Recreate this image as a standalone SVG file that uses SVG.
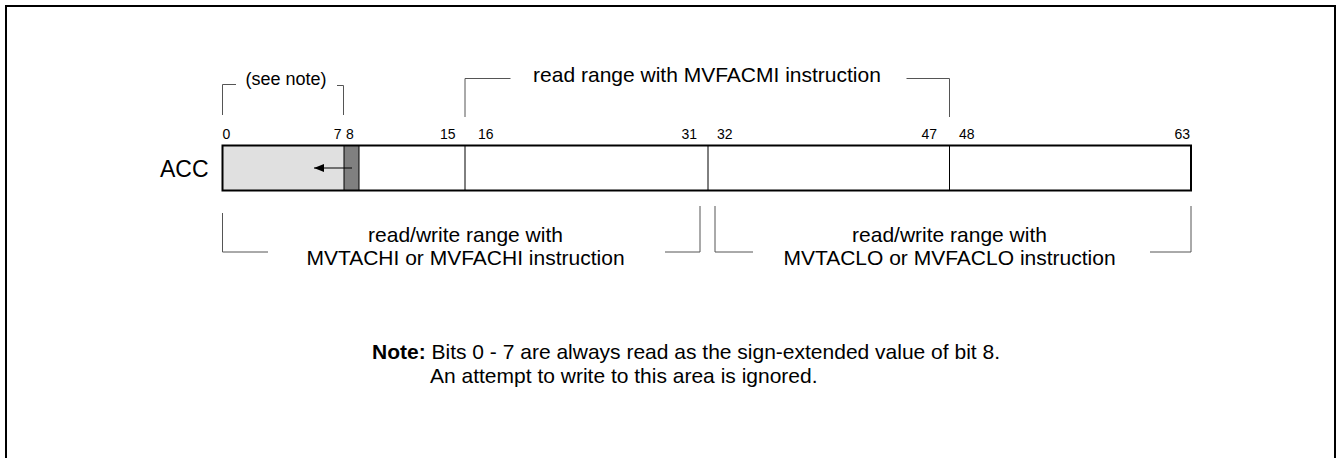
<svg xmlns="http://www.w3.org/2000/svg" width="1339" height="458" viewBox="0 0 1339 458">
<defs>
<style>
text{font-family:"Liberation Sans",Arial,Helvetica,sans-serif;fill:#000}
.lbl{font-size:21px}
.bit{font-size:14px}
.brk{fill:none;stroke:#555;stroke-width:1}
.div{stroke:#000;stroke-width:1}
</style>
<marker id="ah" markerWidth="10" markerHeight="8" refX="10" refY="4" orient="auto" markerUnits="userSpaceOnUse">
<path d="M0,0 L10,4 L0,8 Z" fill="#000"/>
</marker>
</defs>
<rect x="6" y="6" width="1329" height="480" fill="#fff" stroke="#000" stroke-width="2"/>

<g id="register">
<rect x="222.5" y="145.5" width="121.5" height="45" fill="#e0e0e0"/>
<rect x="344" y="145.5" width="15" height="45" fill="#808080"/>
<line class="div" x1="344" y1="145.5" x2="344" y2="190.5"/>
<line class="div" x1="359" y1="145.5" x2="359" y2="190.5"/>
<line class="div" x1="465" y1="145.5" x2="465" y2="190.5"/>
<line class="div" x1="708" y1="145.5" x2="708" y2="190.5"/>
<line class="div" x1="949.5" y1="145.5" x2="949.5" y2="190.5"/>
<rect x="222.5" y="145.5" width="968.5" height="45" fill="none" stroke="#000" stroke-width="2"/>
<text x="160" y="177" style="font-size:23px">ACC</text>
</g>

<g id="bits">
<text class="bit" x="222.5" y="139">0</text>
<text class="bit" x="341.5" y="139" text-anchor="end">7</text>
<text class="bit" x="346" y="139">8</text>
<text class="bit" x="455.5" y="139" text-anchor="end">15</text>
<text class="bit" x="478" y="139">16</text>
<text class="bit" x="697" y="139" text-anchor="end">31</text>
<text class="bit" x="717" y="139">32</text>
<text class="bit" x="937" y="139" text-anchor="end">47</text>
<text class="bit" x="959" y="139">48</text>
<text class="bit" x="1190" y="139" text-anchor="end">63</text>
</g>

<g id="connectors">
<line x1="352" y1="168" x2="314" y2="168" stroke="#000" stroke-width="1" marker-end="url(#ah)"/>
<polyline class="brk" points="222.5,115 222.5,84.5 236,84.5"/>
<polyline class="brk" points="337,85.5 343.5,85.5 343.5,115"/>
<polyline class="brk" points="465,117 465,78.5 510.5,78.5"/>
<polyline class="brk" points="906.5,78.5 949.5,78.5 949.5,117"/>
<polyline class="brk" points="222.5,213 222.5,252 268,252"/>
<polyline class="brk" points="665,252 700,252 700,206"/>
<polyline class="brk" points="715,206 715,252 753,252"/>
<polyline class="brk" points="1150,252 1191,252 1191,206"/>
</g>

<g id="label-see-note">
<text x="245.5" y="85" style="font-size:18px">(see note)</text>
</g>
<g id="label-mvfacmi">
<text class="lbl" x="707" y="82" text-anchor="middle">read range with MVFACMI instruction</text>
</g>
<g id="label-hi">
<text class="lbl" x="465.5" y="242" text-anchor="middle">read/write range with</text>
<text class="lbl" x="465.5" y="265" text-anchor="middle">MVTACHI or MVFACHI instruction</text>
</g>
<g id="label-lo">
<text class="lbl" x="949.5" y="242" text-anchor="middle">read/write range with</text>
<text class="lbl" x="949.5" y="265" text-anchor="middle">MVTACLO or MVFACLO instruction</text>
</g>
<g id="note">
<text class="lbl" x="372" y="359"><tspan font-weight="bold">Note:</tspan> Bits 0 - 7 are always read as the sign-extended value of bit 8.</text>
<text class="lbl" x="430" y="383">An attempt to write to this area is ignored.</text>
</g>
</svg>
